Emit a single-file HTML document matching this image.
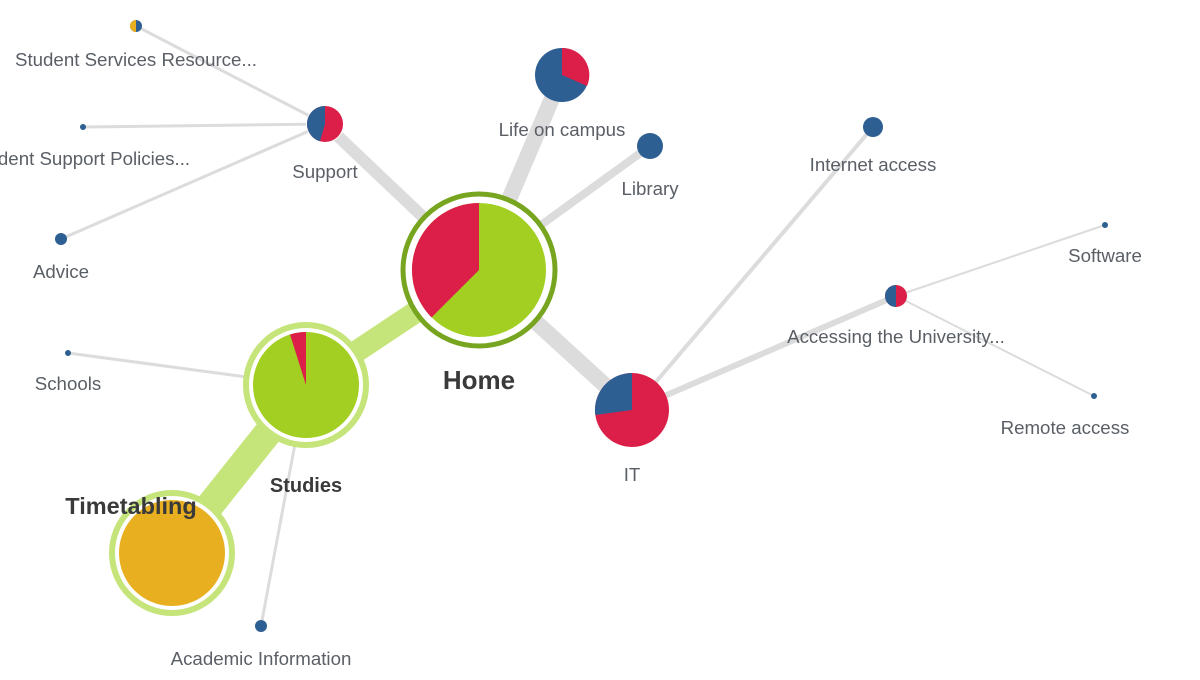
<!DOCTYPE html>
<html><head><style>
html,body{margin:0;padding:0;background:#fff;}
svg{display:block;}
text{font-family:"Liberation Sans",sans-serif;fill:#5a5f66;font-size:18.7px;text-anchor:middle;}
.b{font-weight:bold;fill:#3a3a3a;}
</style></head><body>
<svg width="1200" height="680" viewBox="0 0 1200 680">
<g stroke="#dcdcdc" stroke-linecap="round">
<line x1="479" y1="270" x2="325" y2="124" stroke-width="12"/>
<line x1="479" y1="270" x2="562" y2="75" stroke-width="16"/>
<line x1="479" y1="270" x2="650" y2="146" stroke-width="8"/>
<line x1="479" y1="270" x2="632" y2="410" stroke-width="16"/>
<line x1="632" y1="410" x2="873" y2="127" stroke-width="4"/>
<line x1="632" y1="410" x2="896" y2="296" stroke-width="6"/>
<line x1="896" y1="296" x2="1105" y2="225" stroke-width="2"/>
<line x1="896" y1="296" x2="1094" y2="396" stroke-width="2"/>
<line x1="325" y1="124" x2="136" y2="26" stroke-width="3"/>
<line x1="325" y1="124" x2="83" y2="127" stroke-width="3"/>
<line x1="325" y1="124" x2="61" y2="239" stroke-width="3"/>
<line x1="306" y1="385" x2="68" y2="353" stroke-width="3"/>
<line x1="306" y1="385" x2="261" y2="626" stroke-width="3"/>
</g>
<g stroke="#c5e47a" stroke-linecap="butt">
<line x1="479" y1="270" x2="306" y2="385" stroke-width="22"/>
<line x1="306" y1="385" x2="172" y2="553" stroke-width="28"/>
</g>
<circle cx="479" cy="270" r="76" fill="#fff" stroke="#77a51f" stroke-width="5"/>
<circle cx="479" cy="270" r="67" fill="#a2cf22"/>
<path d="M479,270 L479,203 A67,67 0 0 0 431.6,317.4 Z" fill="#dc1f48"/>
<circle cx="306" cy="385" r="60" fill="#fff" stroke="#c5e47a" stroke-width="6"/>
<circle cx="306" cy="385" r="53" fill="#a2cf22"/>
<path d="M306,385 L306,332 A53,53 0 0 0 290,334.5 Z" fill="#dc1f48"/>
<circle cx="172" cy="553" r="60" fill="#fff" stroke="#c5e47a" stroke-width="6"/>
<circle cx="172" cy="553" r="53" fill="#e8b020"/>
<circle cx="325" cy="124" r="19" fill="#fff"/>
<circle cx="325" cy="124" r="18" fill="#dc1f48"/>
<path d="M325,124 L325,106 A18,18 0 0 0 320,141.3 Z" fill="#2e5f93"/>
<circle cx="562" cy="75" r="27" fill="#2e5f93"/>
<path d="M562,75 L562,48 A27,27 0 0 1 587,86 Z" fill="#dc1f48"/>
<circle cx="650" cy="146" r="13" fill="#2e5f93"/>
<circle cx="632" cy="410" r="37" fill="#dc1f48"/>
<path d="M632,410 L632,373 A37,37 0 0 0 595.3,415 Z" fill="#2e5f93"/>
<circle cx="873" cy="127" r="10" fill="#2e5f93"/>
<circle cx="896" cy="296" r="11" fill="#dc1f48"/>
<path d="M896,296 L896,285 A11,11 0 0 0 896,307 Z" fill="#2e5f93"/>
<circle cx="1105" cy="225" r="3" fill="#2e5f93"/>
<circle cx="1094" cy="396" r="3" fill="#2e5f93"/>
<circle cx="136" cy="26" r="6" fill="#2e5f93"/>
<path d="M136,20 A6,6 0 0 0 136,32 Z" fill="#e8b020"/>
<circle cx="83" cy="127" r="3" fill="#2e5f93"/>
<circle cx="61" cy="239" r="6" fill="#2e5f93"/>
<circle cx="68" cy="353" r="3" fill="#2e5f93"/>
<circle cx="261" cy="626" r="6" fill="#2e5f93"/>
<text x="136" y="66">Student Services Resource...</text>
<text x="94" y="165">dent Support Policies...</text>
<text x="61" y="278">Advice</text>
<text x="325" y="178">Support</text>
<text x="562" y="136">Life on campus</text>
<text x="650" y="195">Library</text>
<text x="873" y="171">Internet access</text>
<text x="1105" y="262">Software</text>
<text x="896" y="343">Accessing the University...</text>
<text x="1065" y="434">Remote access</text>
<text x="632" y="481">IT</text>
<text x="68" y="390">Schools</text>
<text x="261" y="665">Academic Information</text>
<text class="b" x="479" y="389" style="font-size:26px">Home</text>
<text class="b" x="306" y="492" style="font-size:20px">Studies</text>
<text class="b" x="131" y="514" style="font-size:23.5px">Timetabling</text>
</svg>
</body></html>
